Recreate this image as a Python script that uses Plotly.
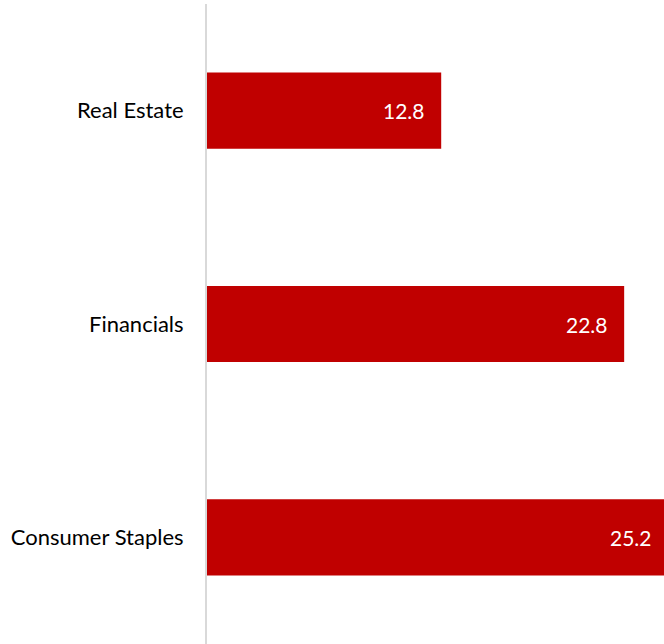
import plotly.graph_objects as go

categories = ["Real Estate", "Financials", "Consumer Staples"]
values = [12.8, 22.8, 25.2]
labels = ["12.8", "22.8", "25.2"]

bar_color = "#C00000"
font_family = "Lato, 'Open Sans', sans-serif"

fig = go.Figure()
fig.add_trace(go.Bar(
    y=categories, x=values, orientation="h",
    marker=dict(color=bar_color, line=dict(width=0)),
    width=0.357, hoverinfo="skip",
))
for c, v, t in zip(categories, values, labels):
    fig.add_annotation(x=v, y=c, text=t, showarrow=False, xanchor="right",
                       xshift=-14, font=dict(color="white", size=21, family=font_family))

fig.update_layout(
    width=669, height=644,
    margin=dict(l=207, r=0, t=4, b=0),
    paper_bgcolor="white", plot_bgcolor="white",
    showlegend=False,
    font=dict(family=font_family, size=22, color="black"),
)
fig.update_xaxes(range=[0, 25.25], visible=False, fixedrange=True)
fig.update_yaxes(autorange="reversed", showgrid=False, zeroline=False,
                 showline=True, linecolor="#D9D9D9", linewidth=2,
                 ticks="outside", ticklen=17, tickcolor="rgba(0,0,0,0)",
                 tickfont=dict(size=22, color="black", family=font_family),
                 fixedrange=True)

html = fig.to_html(include_plotlyjs=True, full_html=True,
                   config={"displayModeBar": False, "staticPlot": True})
html = html.replace("<head>", "<head><style>html,body{margin:0;padding:0;overflow:hidden;}</style>", 1)
with open("out.html", "w", encoding="utf-8") as f:
    f.write(html)
